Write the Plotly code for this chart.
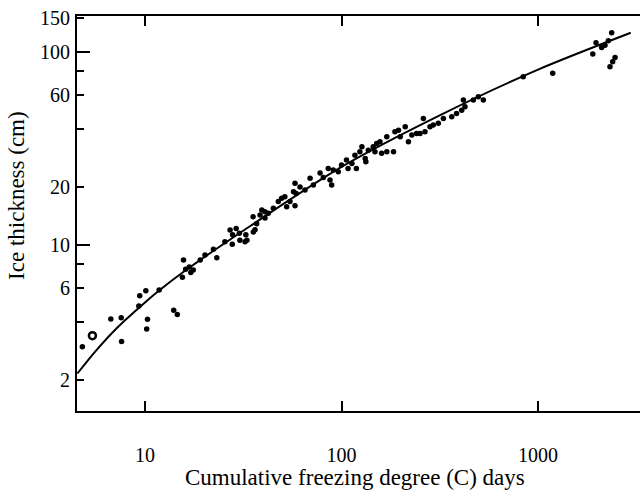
import plotly.graph_objects as go

# ---- data ----
fdd = [4.8, 6.7, 7.57, 7.6, 9.4, 9.3, 10.1, 10.3, 10.2, 11.8, 14.0, 14.6,
       15.5, 17.1, 15.7, 16.8, 16.1, 17.6, 19.1, 20.2, 22.3, 23.2, 25.5, 27.1,
       27.9, 29.1, 30.2, 30.4, 27.8, 33, 32.6, 32.3, 35.6, 36.3, 37, 38.5, 39.3,
       40.8, 40.8, 42.4, 35.5, 45, 47.7, 49.6, 51.5, 52.6, 54.7, 58, 58, 57,
       58.8, 61.5, 65.2, 69.2, 71.9, 77.8, 80.8, 85.6, 87.4, 89.1, 90.8, 96.3,
       100, 106, 108, 113, 117, 119, 124, 127, 132, 133, 137, 145, 151, 148,
       157, 160, 170, 170, 184, 187, 195, 199, 211, 219, 228, 241, 251, 261,
       266, 282, 293, 311, 330, 364, 385, 409, 417, 425, 469, 497, 527, 841,
       1188, 1900, 1973, 2108, 2192, 2279, 2371, 2324, 2399, 2466]
thick = [2.97, 4.14, 4.2, 3.16, 5.46, 4.83, 5.8, 4.12, 3.67, 5.85, 4.6, 4.37,
         6.8, 7.2, 8.36, 7.7, 7.5, 7.42, 8.36, 8.88, 9.5, 8.6, 10.4, 11.96,
         11.3, 12.2, 11.5, 10.6, 10.1, 10.6, 11.3, 10.4, 11.7, 12.0, 12.9, 14.3, 15.2,
         13.8, 14.9, 14.6, 14.0, 15.5, 16.8, 17.5, 17.8, 15.8, 16.8, 16, 20.9, 18.9,
         18.5, 20, 19.3, 22.2, 20.5, 23.6, 22.4, 24.9, 21.7, 20.5, 24.5, 24,
         26, 27.6, 24.9, 26.5, 29.2, 24.9, 30.4, 32.3, 28.1, 27, 31, 32.3, 33.6, 30.4,
         34.3, 29.9, 30.4, 36.4, 30.4, 38.6, 39.4, 36.4, 41, 34.3, 37.2, 37.9, 37.9, 45.3,
         38.6, 41, 41.9, 42.8, 45.3, 46.2, 48.1, 50, 56.4, 52.1, 56.4, 58.6, 56.4, 74.5,
         77.6, 97.7, 111.7, 105.7, 108.6, 114.5, 125.9, 83.9, 89.1, 93.7]

ring_fdd = [5.4]
ring_thick = [3.39]

curve_fdd = [4.53, 5.62, 7.24, 10, 11.8, 15.85, 31.6, 100, 316, 1000, 2965]
curve_thick = [2.16, 2.83, 3.74, 5.04, 5.81, 7.31, 11.86, 25.4, 47.0, 81.1, 125.9]

x_tickvals = [10, 100, 1000]
x_ticktext = ["10", "100", "1000"]
y_tickvals = [2, 6, 10, 20, 60, 100, 150]
y_ticktext = ["2", "6", "10", "20", "60", "100", "150"]
y_minor = [4, 8, 40, 80]
y_long = [10, 100]

FONT = "Liberation Serif"

fig = go.Figure()
fig.add_trace(go.Scatter(x=curve_fdd, y=curve_thick, mode="lines",
                         line=dict(color="black", width=2, shape="spline", smoothing=0.8),
                         hoverinfo="skip"))
fig.add_trace(go.Scatter(x=fdd, y=thick, mode="markers",
                         marker=dict(color="black", size=5.5, line=dict(width=0))))
fig.add_trace(go.Scatter(x=ring_fdd, y=ring_thick, mode="markers",
                         marker=dict(color="black", size=7, symbol="circle-open",
                                     line=dict(width=2.5, color="black"))))
# invisible trace to bind the second y-axis (long major ticks)
fig.add_trace(go.Scatter(x=[10], y=[10], yaxis="y2", mode="markers",
                         marker=dict(opacity=0), hoverinfo="skip"))

yr = [0.140, 2.187]
fig.update_layout(
    width=640, height=498,
    margin=dict(l=77, r=0, t=16, b=87),
    paper_bgcolor="white", plot_bgcolor="white",
    showlegend=False,
    font=dict(family=FONT, size=20, color="black"),
    xaxis=dict(type="log", range=[0.654, 3.519], automargin=False,
               tickvals=x_tickvals, ticktext=x_ticktext,
               ticks="inside", ticklen=10, tickwidth=2, tickcolor="black",
               showline=True, linewidth=2, linecolor="black", mirror="ticks",
               showgrid=False, zeroline=False,
               ticklabelstandoff=25,
               tickfont=dict(family=FONT, size=20, color="black")),
    yaxis=dict(type="log", range=yr, automargin=False,
               tickvals=y_tickvals, ticktext=y_ticktext,
               ticks="inside", ticklen=7, tickwidth=2, tickcolor="black",
               minor=dict(tickvals=y_minor, ticks="inside", ticklen=7,
                          tickwidth=2, tickcolor="black", showgrid=False),
               showline=True, linewidth=2, linecolor="black",
               showgrid=False, zeroline=False,
               ticklabelstandoff=1,
               tickfont=dict(family=FONT, size=20, color="black")),
    yaxis2=dict(type="log", range=yr, overlaying="y", side="left", automargin=False,
                tickvals=y_long, showticklabels=False,
                ticks="inside", ticklen=13, tickwidth=2, tickcolor="black",
                showline=False, showgrid=False, zeroline=False),
    annotations=[
        dict(text="Cumulative freezing degree (C) days", xref="paper", yref="paper",
             x=0.494, y=-0.1696, xanchor="center", yanchor="middle", showarrow=False,
             font=dict(family=FONT, size=23, color="black")),
        dict(text="Ice thickness (cm)", xref="paper", yref="paper",
             x=-0.1066, y=0.547, xanchor="center", yanchor="middle", showarrow=False,
             textangle=-90, font=dict(family=FONT, size=23, color="black")),
    ],
)

fig.write_html("out.html", config={"displayModeBar": False},
               post_script="document.body.style.margin='0';document.body.style.overflow='hidden';")
